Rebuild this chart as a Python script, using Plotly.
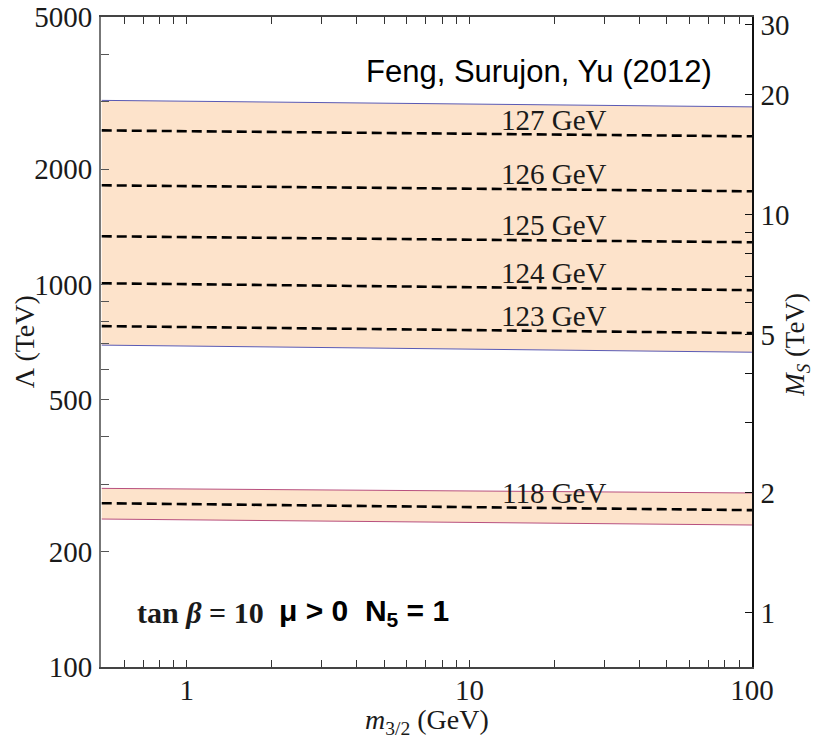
import numpy as np
import plotly.graph_objects as go

# ---------------- data ----------------
m32 = [0.5, 100.0]                      # gravitino mass (GeV), line endpoints

band_hi_top = [3028, 2912]              # upper band edges (TeV)
band_hi_bot = [694, 665]
band_lo_top = [293, 285]                # lower band edges (TeV)
band_lo_bot = [243.6, 235]

higgs_labels = ["127 GeV", "126 GeV", "125 GeV", "124 GeV", "123 GeV", "118 GeV"]
higgs_lines = [
    [2527, 2439],
    [1816, 1752],
    [1336, 1289],
    [1007, 966],
    [778, 746],
    [268, 257],
]
label_x = 20.0

x_tickvals = [0.6, 0.7, 0.8, 0.9, 1, 2, 3, 4, 5, 6, 7, 8, 9, 10,
              20, 30, 40, 50, 60, 70, 80, 90, 100]
x_ticklabels = {1: "1", 10: "10", 100: "100"}

y_tickvals = [100, 200, 300, 400, 500, 600, 700, 800, 900, 1000,
              2000, 3000, 4000, 5000]
y_ticklabels = {100: "100", 200: "200", 500: "500", 1000: "1000",
                2000: "2000", 5000: "5000"}

ms_tickvals = [1, 2, 3, 4, 5, 6, 7, 8, 9, 10, 20, 30]
ms_ticklabels = {1: "1", 2: "2", 5: "5", 10: "10", 20: "20", 30: "30"}

# ---------------- styles ----------------
FILL = "#FDE3CB"
SERIF = "Liberation Serif, Times New Roman, serif"
SANS = "Liberation Sans, Arial, sans-serif"
TXT = "#1a1a1a"

fig = go.Figure()

def band(top, bot, edge):
    fig.add_trace(go.Scatter(x=m32, y=bot, mode="lines",
                             line=dict(color=edge, width=1),
                             hoverinfo="skip", showlegend=False))
    fig.add_trace(go.Scatter(x=m32, y=top, mode="lines", fill="tonexty",
                             fillcolor=FILL, line=dict(color=edge, width=1),
                             hoverinfo="skip", showlegend=False))

band(band_hi_top, band_hi_bot, "#5a5ab4")
band(band_lo_top, band_lo_bot, "#b8507e")

for vals in higgs_lines:
    fig.add_trace(go.Scatter(x=m32, y=vals, mode="lines",
                             line=dict(color="black", width=2.6, dash="10px,5px"),
                             hoverinfo="skip", showlegend=False))

# invisible trace to anchor right axis
fig.add_trace(go.Scatter(x=[1] * len(ms_tickvals), y=ms_tickvals, yaxis="y2",
                         mode="markers", marker=dict(opacity=0),
                         hoverinfo="skip", showlegend=False))

annotations = []
lx = np.log10(m32)
for lab, vals in zip(higgs_labels, higgs_lines):
    ly = np.interp(np.log10(label_x), lx, np.log10(vals))
    annotations.append(dict(x=np.log10(label_x), y=ly, xref="x", yref="y",
                            text=lab, showarrow=False, xanchor="center",
                            yanchor="bottom", yshift=-3,
                            font=dict(family=SERIF, size=29, color=TXT)))

annotations += [
    dict(x=0.673, y=0.9165, xref="paper", yref="paper",
         xanchor="center", yanchor="middle",
         text="Feng, Surujon, Yu (2012)", showarrow=False,
         font=dict(family=SANS, size=31, color="black")),
    dict(x=0.052, y=0.0846, xref="paper", yref="paper",
         xanchor="left", yanchor="middle",
         text="<b>tan <i>β</i> = 10</b>", showarrow=False,
         font=dict(family=SERIF, size=30, color=TXT)),
    dict(x=0.270, y=0.0846, xref="paper", yref="paper",
         xanchor="left", yanchor="middle",
         text="<b>μ > 0  N<sub>5</sub> = 1</b>", showarrow=False,
         font=dict(family=SANS, size=30, color="black")),
    dict(x=-0.118, y=0.5, xref="paper", yref="paper", textangle=-90,
         xanchor="center", yanchor="middle",
         text="Λ (TeV)", showarrow=False,
         font=dict(family=SERIF, size=28, color=TXT)),
    dict(x=1.07, y=0.495, xref="paper", yref="paper", textangle=-90,
         xanchor="center", yanchor="middle",
         text="<i>M<sub>S</sub></i> (TeV)", showarrow=False,
         font=dict(family=SERIF, size=27, color=TXT)),
    dict(x=0.5, y=-0.084, xref="paper", yref="paper",
         xanchor="center", yanchor="middle",
         text="<i>m</i><sub>3/2</sub> (GeV)", showarrow=False,
         font=dict(family=SERIF, size=28, color=TXT)),
]

# page body has an 8px default margin: shrink the figure to compensate
fig.update_layout(
    template="none",
    width=813, height=736,
    margin=dict(l=93, r=69, t=9, b=77, pad=0),
    paper_bgcolor="white", plot_bgcolor="white",
    showlegend=False,
    annotations=annotations,
    xaxis=dict(type="log", range=[np.log10(0.497), 2.0001], automargin=False,
               tickvals=x_tickvals,
               ticktext=[x_ticklabels.get(v, "") for v in x_tickvals],
               ticks="inside", ticklen=7, tickwidth=1.2, tickcolor="#333",
               showline=True, linecolor="#444", linewidth=1.6,
               mirror="ticks", showgrid=False, zeroline=False,
               tickfont=dict(family=SERIF, size=29, color=TXT),
               ticklabelstandoff=-4, ticklabeloverflow="allow"),
    yaxis=dict(type="log", range=[1.9999, 3.6991], automargin=False,
               tickvals=y_tickvals,
               ticktext=[y_ticklabels.get(v, "") for v in y_tickvals],
               ticks="inside", ticklen=8, tickwidth=1.2, tickcolor="#555",
               showline=True, linecolor="#777", linewidth=2,
               showgrid=False, zeroline=False,
               tickfont=dict(family=SERIF, size=29, color=TXT),
               ticklabelstandoff=1, ticklabeloverflow="allow"),
    yaxis2=dict(type="log", range=[-0.137, 1.497], overlaying="y", side="right",
                automargin=False,
                tickvals=ms_tickvals,
                ticktext=[ms_ticklabels.get(v, "") for v in ms_tickvals],
                ticks="inside", ticklen=7, tickwidth=1.2, tickcolor="#111",
                showline=True, linecolor="#111", linewidth=1.6,
                showgrid=False, zeroline=False,
                tickfont=dict(family=SERIF, size=29, color=TXT),
                ticklabelstandoff=1, ticklabeloverflow="allow"),
)

fig.write_html("out.html")
